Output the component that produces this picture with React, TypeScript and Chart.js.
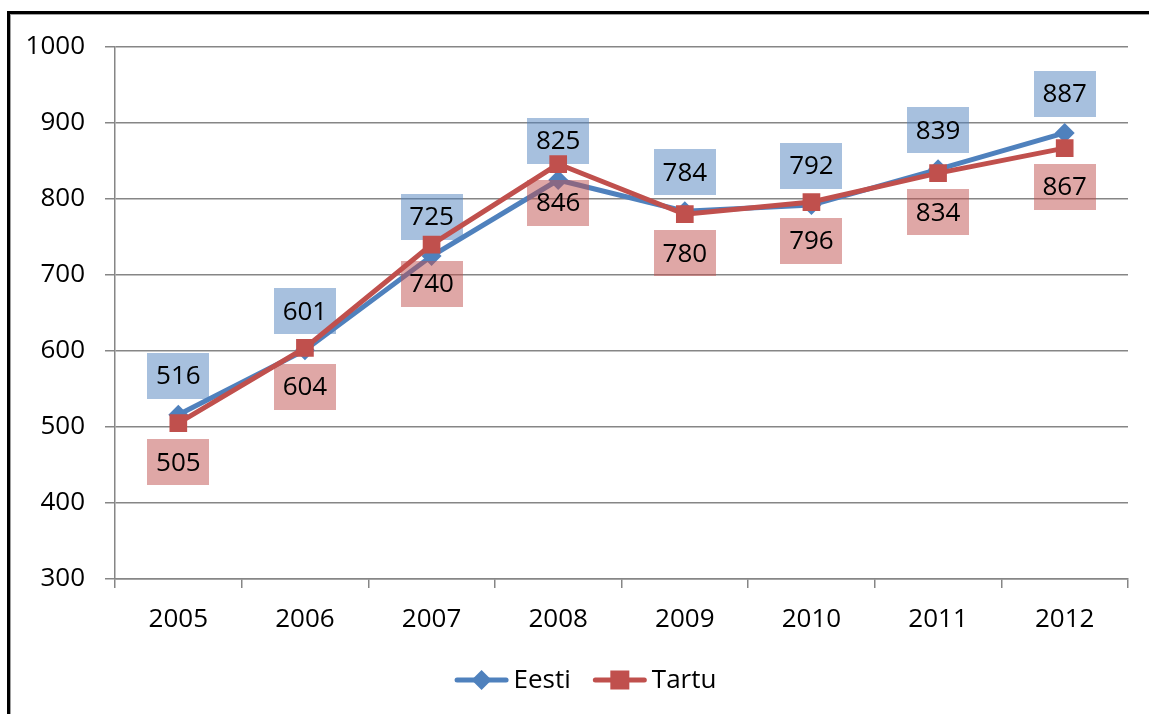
import { useEffect, useRef } from "react";
import { Chart, registerables } from "chart.js";

Chart.register(...registerables);

const years = ["2005", "2006", "2007", "2008", "2009", "2010", "2011", "2012"];
const eesti = [516, 601, 725, 825, 784, 792, 839, 887];
const tartu = [505, 604, 740, 846, 780, 796, 834, 867];
const seriesNames = ["Eesti", "Tartu"];
const yMin = 300;
const yMax = 1000;
const yStep = 100;

const FONT = "'Open Sans'";
const FSIZE = 26;
const BLUE = "#4F81BD";
const RED = "#C0504D";
const GRID = "#868686";

const framePlugin = {
  id: "frame",
  beforeDraw(chart: any) {
    const ctx = chart.ctx;
    ctx.save();
    ctx.fillStyle = "#fff";
    ctx.fillRect(0, 0, chart.width, chart.height);
    ctx.fillStyle = "#000";
    ctx.fillRect(7, 11, 3, chart.height - 11);
    ctx.fillRect(7, 11, chart.width - 7, 3);
    ctx.fillStyle = "#a0a0a0";
    ctx.fillRect(10, 14, 1, chart.height - 14);
    ctx.fillRect(10, 14, chart.width - 10, 1);
    ctx.restore();
  },
};

const boxLabelPlugin = {
  id: "boxLabels",
  afterDatasetDraw(chart: any, args: any) {
    const ds: any = chart.data.datasets[args.index];
    const meta = args.meta;
    const ctx = chart.ctx;
    const dir = ds.labelAbove ? -1 : 1;
    ctx.save();
    ctx.font = `${FSIZE}px ${FONT}`;
    ctx.textAlign = "center";
    ctx.textBaseline = "middle";
    meta.data.forEach((pt: any, i: number) => {
      const cx = pt.x;
      const cy = pt.y + dir * 39;
      ctx.fillStyle = ds.labelBg;
      ctx.fillRect(Math.round(cx - 31), Math.round(cy - 23), 62, 46);
      ctx.fillStyle = "#000";
      ctx.fillText(String(ds.data[i]), cx, cy + 1);
    });
    ctx.restore();
  },
};

const legendPlugin = {
  id: "lineLegend",
  afterDraw(chart: any) {
    const ctx = chart.ctx;
    const y = 680;
    ctx.save();
    ctx.font = `${FSIZE}px ${FONT}`;
    ctx.textBaseline = "middle";
    ctx.textAlign = "left";
    const items = chart.data.datasets.map((d: any) => ({
      text: d.label,
      color: d.borderColor,
      style: d.pointStyle,
      w: ctx.measureText(d.label).width,
    }));
    const lineLen = 54;
    const gapText = 5;
    const gapItem = 22;
    let total = 0;
    items.forEach((it: any, i: number) => {
      total += lineLen + gapText + it.w + (i < items.length - 1 ? gapItem : 0);
    });
    let x = 585.5 - total / 2;
    items.forEach((it: any) => {
      ctx.strokeStyle = it.color;
      ctx.lineWidth = 5;
      ctx.lineCap = "round";
      ctx.beginPath();
      ctx.moveTo(x + 2.5, y);
      ctx.lineTo(x + lineLen - 2.5, y);
      ctx.stroke();
      const mx = x + lineLen / 2;
      ctx.fillStyle = it.color;
      ctx.beginPath();
      if (it.style === "rectRot") {
        ctx.moveTo(mx - 10, y);
        ctx.lineTo(mx, y - 10);
        ctx.lineTo(mx + 10, y);
        ctx.lineTo(mx, y + 10);
        ctx.closePath();
      } else {
        ctx.rect(mx - 9.5, y - 9.5, 19, 19);
      }
      ctx.fill();
      ctx.fillStyle = "#000";
      ctx.fillText(it.text, x + lineLen + gapText, y + 1);
      x += lineLen + gapText + it.w + gapItem;
    });
    ctx.restore();
  },
};

export default function App() {
  const ref = useRef<HTMLCanvasElement | null>(null);

  useEffect(() => {
    if (!ref.current) return;
    const chart = new Chart(ref.current, {
      type: "line",
      data: {
        labels: years,
        datasets: [
          {
            label: seriesNames[0],
            data: eesti,
            borderColor: BLUE,
            backgroundColor: BLUE,
            borderWidth: 5,
            pointStyle: "rectRot",
            pointRadius: 10,
            pointBorderWidth: 0,
            pointBackgroundColor: BLUE,
            tension: 0,
            order: 2,
            labelAbove: true,
            labelBg: "rgba(79,129,189,0.5)",
          } as any,
          {
            label: seriesNames[1],
            data: tartu,
            borderColor: RED,
            backgroundColor: RED,
            borderWidth: 5,
            pointStyle: "rect",
            pointRadius: 12.5,
            pointBorderWidth: 0,
            pointBackgroundColor: RED,
            tension: 0,
            order: 1,
            labelAbove: false,
            labelBg: "rgba(192,80,77,0.5)",
          } as any,
        ],
      },
      options: {
        responsive: false,
        animation: false,
        layout: { padding: { left: 0, top: 47, right: 21, bottom: 0 } },
        plugins: {
          legend: { display: false },
          tooltip: { enabled: false },
        },
        scales: {
          x: {
            type: "category",
            offset: true,
            grid: {
              drawOnChartArea: false,
              offset: true,
              color: GRID,
              lineWidth: 1.5,
              tickLength: 9,
            },
            border: { color: GRID, width: 1.5 },
            ticks: {
              color: "#000",
              font: { family: FONT, size: FSIZE },
              padding: 16,
              maxRotation: 0,
            },
            afterFit: (s: any) => {
              s.height = 135;
            },
          },
          y: {
            min: yMin,
            max: yMax,
            grid: { color: GRID, lineWidth: 1.5, tickLength: 10 },
            border: { color: GRID, width: 1.5 },
            ticks: {
              stepSize: yStep,
              color: "#000",
              font: { family: FONT, size: FSIZE },
              padding: 20,
              callback: (v: any) => String(v),
            },
            afterFit: (s: any) => {
              s.width = 115;
            },
          },
        },
      },
      plugins: [framePlugin, boxLabelPlugin, legendPlugin],
    });
    return () => chart.destroy();
  }, []);

  return (
    <canvas
      ref={ref}
      width={1149}
      height={714}
      style={{ position: "fixed", left: 0, top: 0, display: "block", width: 1149, height: 714 }}
    />
  );
}
